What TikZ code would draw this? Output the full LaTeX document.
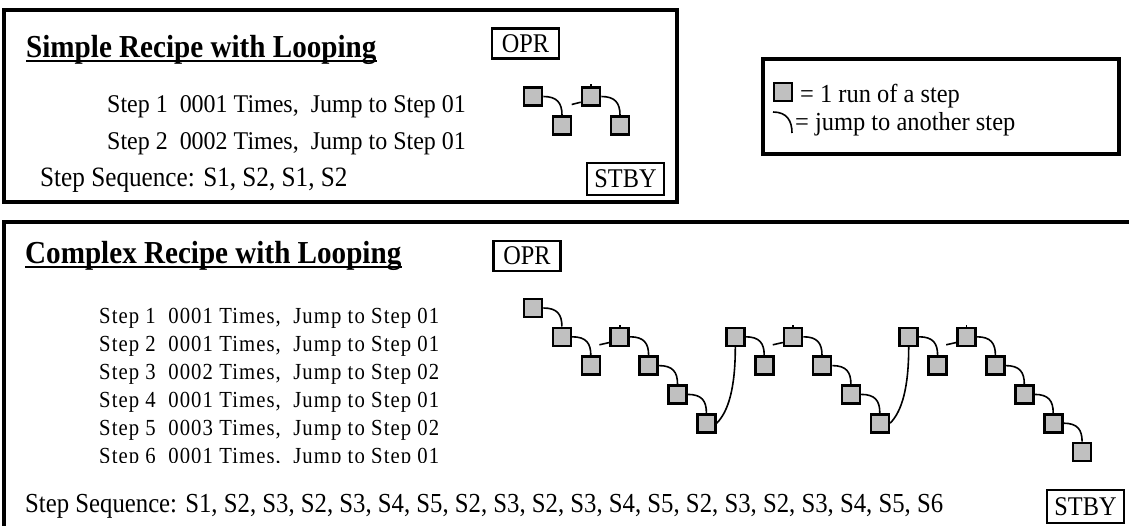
\documentclass[tikz,border=0pt]{standalone}
\usepackage{fontspec}
\setmainfont{Liberation Serif}
\newfontfamily\fa{Liberation Serif}[FakeStretch=0.91]
\newfontfamily\fb{Liberation Serif}[FakeStretch=0.94]
\newfontfamily\fc{Liberation Serif}[FakeStretch=0.9,LetterSpace=4.7]
\newfontfamily\fd{Liberation Serif}[FakeStretch=0.9]
\usetikzlibrary{calc}
\definecolor{sqgray}{RGB}{192,192,192}
\begin{document}
\begin{tikzpicture}[x=1pt,y=-1pt,
  frame/.style={draw=black,line width=3.6pt},
  tagbox/.style={draw=black,line width=2.6pt,inner sep=0pt,minimum width=67pt,minimum height=30pt,font=\fontsize{27}{27}\fd},
  runbox/.style={draw=black,line width=2.6pt,fill=sqgray,minimum size=18pt,inner sep=0pt},
  jumpline/.style={draw=black,line width=1.6pt},
  title/.style={font=\fontsize{32}{32}\fa\bfseries,inner sep=0pt,anchor=base west},
  txt/.style={inner sep=0pt,anchor=base west,font=\fontsize{25.5}{25.5}\fb},
  lgtxt/.style={inner sep=0pt,anchor=base west,font=\fontsize{26}{26}\fb},
  ctxt/.style={inner sep=0pt,anchor=base west,font=\fontsize{23}{23}\fc},
  seq/.style={inner sep=0pt,anchor=base west,font=\fontsize{28}{28}\fd},
  uline/.style={draw=black,line width=2pt},
]
\useasboundingbox (0,0) rectangle (1129,525);
\fill[white] (0,0) rectangle (1129,525);

% frames
\draw[frame] (4,10) rectangle (677,202);
\draw[frame] (763,59) rectangle (1119,154);
\draw[frame] (4,222) rectangle (1150,560);

% ---------- simple recipe ----------
\node[title] (t1) at (26,57) {Simple Recipe with Looping};
\draw[uline] ([yshift=-4]t1.base west) -- ([yshift=-4]t1.base east);
\node[tagbox] (opr1) at (525.5,43.5) {OPR};
\node[txt] (a1) at (107,112) {Step 1\ \ 0001 Times,\ \ Jump to Step 01};
\node[txt] (a2) at (107,149) {Step 2\ \ 0002 Times,\ \ Jump to Step 01};
\node[seq] (sq1) at (40,186) {Step Sequence: S1, S2, S1, S2};
\node[tagbox,minimum width=77pt,minimum height=32pt] (stby1) at (625.5,179) {STBY};

\node[runbox] (s0) at (533,96.5) {};
\node[runbox] (s1) at (562,125.5) {};
\node[runbox] (s2) at (591,96.5) {};
\node[runbox] (s3) at (620,125.5) {};
\draw[jumpline] (s0.east) .. controls +(14,0) and +(0,-12) .. (s1.north);
\draw[jumpline] (s2.east) .. controls +(14,0) and +(0,-12) .. (s3.north);
\coordinate (st0) at ($(s2.west)+(-9,8)$);
\draw[jumpline] (st0) -- (s2.209);
\coordinate (tk0) at ($(s2.north)+(0,-2)$);
\draw[jumpline] (s2.north) -- (tk0);

% ---------- legend ----------
\node[runbox] (lg) at (783,92) {};
\node[lgtxt] (lt1) at (800,102) {= 1 run of a step};
\coordinate (h1) at (773,112);
\coordinate (h2) at (792,133);
\draw[jumpline] (h1) .. controls +(14,0) and +(0,-12) .. (h2);
\node[lgtxt] (lt2) at (795,130) {= jump to another step};

% ---------- complex recipe ----------
\node[title] (t2) at (25,263) {Complex Recipe with Looping};
\draw[uline] ([yshift=-4]t2.base west) -- ([yshift=-4]t2.base east);
\node[tagbox] (opr2) at (527,256) {OPR};

\begin{scope}
\clip (0,290) rectangle (500,462);
\node[ctxt] (b1) at (99,323) {Step 1\ \ 0001 Times,\ \ Jump to Step 01};
\node[ctxt] (b2) at (99,351) {Step 2\ \ 0001 Times,\ \ Jump to Step 01};
\node[ctxt] (b3) at (99,379) {Step 3\ \ 0002 Times,\ \ Jump to Step 02};
\node[ctxt] (b4) at (99,407) {Step 4\ \ 0001 Times,\ \ Jump to Step 01};
\node[ctxt] (b5) at (99,435) {Step 5\ \ 0003 Times,\ \ Jump to Step 02};
\node[ctxt] (b6) at (99,463) {Step 6\ \ 0001 Times,\ \ Jump to Step 01};
\end{scope}

\node[seq,font=\fontsize{27.5}{27.5}\fd] (sq2) at (25,512) {Step Sequence: S1, S2, S3, S2, S3, S4, S5, S2, S3, S2, S3, S4, S5, S2, S3, S2, S3, S4, S5, S6};
\node[tagbox,minimum width=77pt,minimum height=33pt] (stby2) at (1085.5,506.5) {STBY};

\foreach \r [count=\i from 0] in {0,1,2,1,2,3,4,1,2,1,2,3,4,1,2,1,2,3,4,5}
  \node[runbox] (c\i) at ({533+28.9*\i},{308+28.8*\r}) {};

\foreach \a/\b in {0/1,1/2,3/4,4/5,5/6,7/8,9/10,10/11,11/12,13/14,15/16,16/17,17/18,18/19}
  \draw[jumpline] (c\a.east) .. controls +(14,0) and +(0,-12) .. (c\b.north);

\foreach \a/\b in {6/7,12/13}
  \draw[jumpline] (c\a.east) .. controls +(12,-12) and +(0,40) .. (c\b.south);

\foreach \k in {3,9,15}{
  \coordinate (st\k) at ($(c\k.west)+(-10,8)$);
  \draw[jumpline] (st\k) -- (c\k.209);
  \coordinate (tk\k) at ($(c\k.north)+(0,-2)$);
  \draw[jumpline] (c\k.north) -- (tk\k);
}
\end{tikzpicture}
\end{document}
